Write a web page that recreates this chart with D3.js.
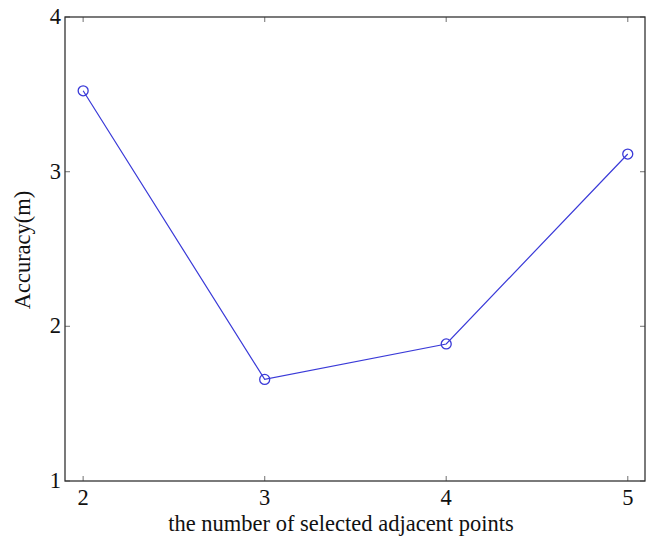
<!DOCTYPE html>
<html><head><meta charset="utf-8">
<script src="https://cdn.jsdelivr.net/npm/d3@7"></script>
<style>body{margin:0;background:#fff}</style>
</head><body>
<svg id="c" width="651" height="539"></svg>
<script>
const xValues = [2, 3, 4, 5];
const accuracy = [3.523, 1.657, 1.886, 3.114];
const xTicks = [2, 3, 4, 5];
const yTicks = [1, 2, 3, 4];
const xLabel = "the number of selected adjacent points";
const yLabel = "Accuracy(m)";

const svg = d3.select("#c");
const L = 65, R = 645, T = 17, B = 481;
const x = d3.scaleLinear().domain([1.9, 5.095]).range([L, R]);
const y = d3.scaleLinear().domain([1, 4]).range([B, T]);
const font = "'Liberation Serif', 'Times New Roman', serif";
const tickCol = "#888";
const fs = 22.5;

const g = svg.append("g");
xTicks.forEach(v => {
  g.append("line").attr("x1", x(v)).attr("x2", x(v)).attr("y1", B).attr("y2", B - 5).attr("stroke", tickCol).attr("stroke-width", 1.2);
  g.append("line").attr("x1", x(v)).attr("x2", x(v)).attr("y1", T).attr("y2", T + 5).attr("stroke", tickCol).attr("stroke-width", 1.2);
  g.append("text").attr("x", x(v)).attr("y", B + 24).attr("text-anchor", "middle")
    .attr("font-family", font).attr("font-size", fs).attr("fill", "#111").text(v);
});
yTicks.forEach(v => {
  g.append("line").attr("x1", L).attr("x2", L + 5).attr("y1", y(v)).attr("y2", y(v)).attr("stroke", tickCol).attr("stroke-width", 1.2);
  g.append("line").attr("x1", R).attr("x2", R - 5).attr("y1", y(v)).attr("y2", y(v)).attr("stroke", tickCol).attr("stroke-width", 1.2);
  g.append("text").attr("x", L - 4).attr("y", y(v) + 7).attr("text-anchor", "end")
    .attr("font-family", font).attr("font-size", fs).attr("fill", "#111").text(v);
});

svg.append("rect").attr("x", L).attr("y", T).attr("width", R - L).attr("height", B - T)
  .attr("fill", "none").attr("stroke", "#333").attr("stroke-width", 1.3);

const pts = xValues.map((v, i) => [v, accuracy[i]]);
const lineCol = "#3a3ad8";
svg.append("path").datum(pts)
  .attr("d", d3.line().x(d => x(d[0])).y(d => y(d[1])))
  .attr("fill", "none").attr("stroke", lineCol).attr("stroke-width", 1.2);
svg.selectAll("circle.m").data(pts).join("circle").attr("class", "m")
  .attr("cx", d => x(d[0])).attr("cy", d => y(d[1])).attr("r", 5)
  .attr("fill", "none").attr("stroke", lineCol).attr("stroke-width", 1.3);

svg.append("text").attr("x", 341).attr("y", 531).attr("text-anchor", "middle")
  .attr("font-family", font).attr("font-size", fs).attr("fill", "#111").text(xLabel);
svg.append("text").attr("transform", `translate(30,250) rotate(-90)`).attr("text-anchor", "middle")
  .attr("font-family", font).attr("font-size", fs).attr("fill", "#111").text(yLabel);
</script>
</body></html>
